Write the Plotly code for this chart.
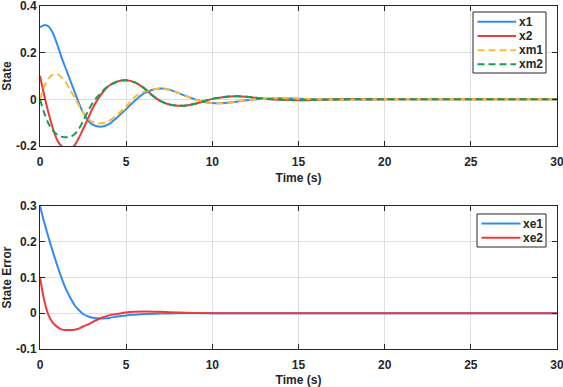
import plotly.graph_objects as go

# ---------------- data ----------------
t_top = [0, 0.25, 0.5, 0.75, 1, 1.25, 1.5, 1.75, 2, 2.25, 2.5, 2.75, 3, 3.25, 3.5, 3.75,
         4, 4.5, 5, 5.5, 6, 6.5, 7, 7.5, 8, 8.5, 9, 9.5, 10, 10.5, 11, 11.5, 12, 12.5,
         13, 14, 15, 16, 17, 18, 20, 22, 25, 30]

x1 = [0.309, 0.318, 0.312, 0.283, 0.235, 0.180, 0.131, 0.082, 0.034, -0.015, -0.056, -0.087,
      -0.106, -0.114, -0.117, -0.114, -0.106, -0.076, -0.042, -0.006, 0.024, 0.040, 0.046,
      0.041, 0.028, 0.013, 0.000, -0.010, -0.016, -0.017, -0.014, -0.009, -0.004, 0.000,
      0.003, 0.005, 0.003, 0.000, -0.002, -0.001, 0.0, 0.0, 0.0, 0.0]

x2 = [0.101, 0.015, -0.060, -0.126, -0.175, -0.200, -0.211, -0.212, -0.198, -0.166, -0.128,
      -0.088, -0.047, -0.012, 0.016, 0.040, 0.058, 0.077, 0.082, 0.073, 0.050, 0.018, -0.008,
      -0.022, -0.027, -0.026, -0.019, -0.008, 0.002, 0.008, 0.012, 0.013, 0.011, 0.007,
      0.003, -0.002, -0.004, -0.002, 0.000, 0.001, 0.0, 0.0, 0.0, 0.0]

xm1 = [0.000, 0.055, 0.090, 0.106, 0.108, 0.094, 0.072, 0.041, 0.008, -0.024, -0.056, -0.080,
       -0.095, -0.102, -0.103, -0.100, -0.093, -0.065, -0.030, 0.010, 0.032, 0.042, 0.046,
       0.041, 0.028, 0.013, 0.000, -0.010, -0.016, -0.017, -0.014, -0.009, -0.004, 0.000,
       0.003, 0.005, 0.003, 0.000, -0.002, -0.001, 0.0, 0.0, 0.0, 0.0]

xm2 = [0.000, -0.059, -0.105, -0.134, -0.151, -0.160, -0.163, -0.161, -0.150, -0.127, -0.094,
       -0.055, -0.022, 0.004, 0.025, 0.044, 0.058, 0.077, 0.082, 0.073, 0.050, 0.018, -0.008,
       -0.022, -0.027, -0.026, -0.019, -0.008, 0.002, 0.008, 0.012, 0.013, 0.011, 0.007,
       0.003, -0.002, -0.004, -0.002, 0.000, 0.001, 0.0, 0.0, 0.0, 0.0]

t_err = [0, 0.25, 0.5, 0.75, 1, 1.25, 1.5, 1.75, 2, 2.25, 2.5, 2.75, 3, 3.5, 4, 4.5, 5,
         5.5, 6, 7, 8, 9, 10, 12, 15, 20, 25, 30]

xe1 = [0.300, 0.253, 0.211, 0.171, 0.134, 0.099, 0.068, 0.044, 0.023, 0.009, -0.002, -0.008,
       -0.012, -0.015, -0.013, -0.009, -0.006, -0.004, -0.002, -0.001, 0.000, 0.000, 0.0,
       0.0, 0.0, 0.0, 0.0, 0.0]

xe2 = [0.100, 0.035, -0.006, -0.027, -0.038, -0.045, -0.047, -0.047, -0.046, -0.043, -0.037,
       -0.032, -0.026, -0.014, -0.006, -0.002, 0.002, 0.004, 0.005, 0.004, 0.002, 0.001, 0.0,
       0.0, 0.0, 0.0, 0.0, 0.0]

x_ticks = [0, 5, 10, 15, 20, 25, 30]
y1_ticks = [-0.2, 0, 0.2, 0.4]
y1_text = ["-0.2", "0", "0.2", "0.4"]
y2_ticks = [-0.1, 0, 0.1, 0.2, 0.3]
y2_text = ["-0.1", "0", "0.1", "0.2", "0.3"]

# ---------------- styling ----------------
W, H = 563, 387
ML, MR, MT, MB = 40, 6, 6, 38
BLUE = "rgb(50,138,245)"
RED = "rgb(238,58,58)"
YELLOW = "rgb(253,186,44)"
GREEN = "rgb(22,158,82)"
DASH = "7px,4px"
FONT = dict(family="Liberation Sans, Arial, sans-serif", size=12, color="#262626", weight="bold")
GRID = "rgb(222,222,222)"
AX = "#262626"

fig = go.Figure()

def line(x, y, name, color, dash="solid", xa="x", ya="y"):
    fig.add_trace(go.Scatter(
        x=x, y=y, name=name, mode="lines", xaxis=xa, yaxis=ya, showlegend=False,
        hoverinfo="skip",
        line=dict(color=color, width=2, dash=dash, shape="spline", smoothing=0.8)))

line(t_top, x1, "x1", BLUE)
line(t_top, x2, "x2", RED)
line(t_top, xm1, "xm1", YELLOW, dash=DASH)
line(t_top, xm2, "xm2", GREEN, dash=DASH)
line(t_err, xe1, "xe1", BLUE, xa="x2", ya="y2")
line(t_err, xe2, "xe2", RED, xa="x2", ya="y2")

common_x = dict(range=[0, 30], tickvals=x_ticks, showgrid=True, gridcolor=GRID, zeroline=False,
                showline=True, linecolor=AX, linewidth=1, mirror="ticks", ticks="inside",
                ticklen=5, tickcolor=AX, tickfont=FONT, automargin=False,
                ticklabelstandoff=5, ticklabeloverflow="allow")
common_y = dict(showgrid=True, gridcolor=GRID, zeroline=False, showline=True, linecolor=AX,
                linewidth=1, mirror="ticks", ticks="inside", ticklen=5, tickcolor=AX,
                tickfont=FONT, automargin=False, ticklabeloverflow="allow")

PW, PH = W - ML - MR, H - MT - MB
fig.update_layout(
    width=W, height=H,
    margin=dict(l=ML, r=MR, t=MT, b=MB, autoexpand=False),
    paper_bgcolor="white", plot_bgcolor="white",
    font=FONT,
    showlegend=False,
    hovermode=False,
    xaxis=dict(domain=[0, 1], anchor="y",
               title=dict(text="Time (s)", font=FONT, standoff=5), **common_x),
    yaxis=dict(domain=[(H - MB - 146) / PH, 1.0], anchor="x", range=[-0.2, 0.4],
               tickvals=y1_ticks, ticktext=y1_text,
               title=dict(text="State", font=FONT, standoff=4), **common_y),
    xaxis2=dict(domain=[0, 1], anchor="y2",
                title=dict(text="Time (s)", font=FONT, standoff=5), **common_x),
    yaxis2=dict(domain=[0, (H - MB - 206) / PH], anchor="x2", range=[-0.1, 0.3],
                tickvals=y2_ticks, ticktext=y2_text,
                title=dict(text="State Error", font=FONT, standoff=4), **common_y),
)

# ---------------- legends (boxes drawn in paper space) ----------------
def px(xp):
    return (xp - ML) / PW
def py(yp):
    return (H - MB - yp) / PH

def legend_box(x0, x1_, y0, y1_, entries, line_x0, line_x1, text_x):
    fig.add_shape(type="rect", xref="paper", yref="paper", x0=px(x0), x1=px(x1_),
                  y0=py(y1_), y1=py(y0), line=dict(color=AX, width=1), fillcolor="white",
                  layer="above")
    for (label, color, dash, yc) in entries:
        fig.add_shape(type="line", xref="paper", yref="paper", x0=px(line_x0), x1=px(line_x1),
                      y0=py(yc), y1=py(yc), line=dict(color=color, width=2, dash=dash),
                      layer="above")
        fig.add_annotation(text=label, xref="paper", yref="paper", x=px(text_x), y=py(yc),
                           xanchor="left", yanchor="middle", showarrow=False, font=FONT,
                           borderpad=0)

legend_box(473, 546, 12, 73,
           [("x1", BLUE, "solid", 21.7), ("x2", RED, "solid", 35.9),
            ("xm1", YELLOW, DASH, 50.3), ("xm2", GREEN, DASH, 64.3)],
           477.5, 516, 518)
legend_box(477, 546, 214, 247,
           [("xe1", BLUE, "solid", 223.5), ("xe2", RED, "solid", 237.8)],
           481.5, 520.5, 522)

fig.write_html("out.html", config={"displayModeBar": False, "staticPlot": True},
               post_script="document.body.style.margin='0px';document.body.style.padding='0px';")
